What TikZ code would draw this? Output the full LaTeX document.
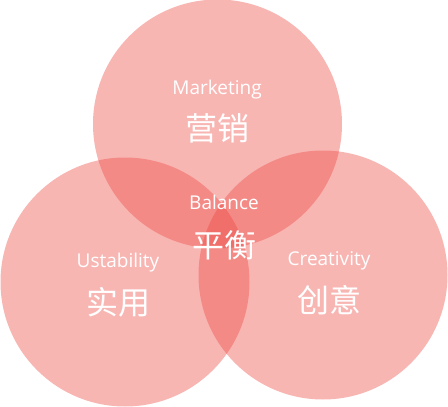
\documentclass[tikz,border=0pt]{standalone}
\usepackage{fontspec}
\setmainfont{Open Sans}
\newfontfamily\cjkfont{Noto Sans CJK SC}
\usetikzlibrary{positioning}
\definecolor{vennRed}{RGB}{237,72,66}
\tikzset{
  vennCircle/.style={
    circle,
    inner sep=0pt,
    minimum size=249pt,
    fill=vennRed,
    fill opacity=0.4
  },
  enLabel/.style={text=white, inner sep=0pt, font=\fontsize{19}{22}\selectfont},
  zhLabel/.style={text=white, inner sep=0pt, font=\cjkfont\fontsize{32}{35}\selectfont}
}

\begin{document}
\begin{tikzpicture}[x=1pt, y=-1pt]
  \useasboundingbox (0,0) rectangle (448,407);

  \node[vennCircle] (market) at (217.5,124) {};
  \node[vennCircle] (usable) at (125,282) {};
  \node[vennCircle] (create) at (323,275) {};

  \node[enLabel] (marketEn) at (217,90) {Marketing};
  \node[zhLabel] (marketZh) at (217,128) {营销};
  \node[enLabel] (balanceEn) at (224,202) {Balance};
  \node[zhLabel] (balanceZh) at (224,245) {平衡};
  \node[enLabel] (usableEn) at (118,263) {Ustability};
  \node[zhLabel] (usableZh) at (118,302) {实用};
  \node[enLabel] (createEn) at (329,261) {Creativity};
  \node[zhLabel] (createZh) at (329,300) {创意};
\end{tikzpicture}
\end{document}
